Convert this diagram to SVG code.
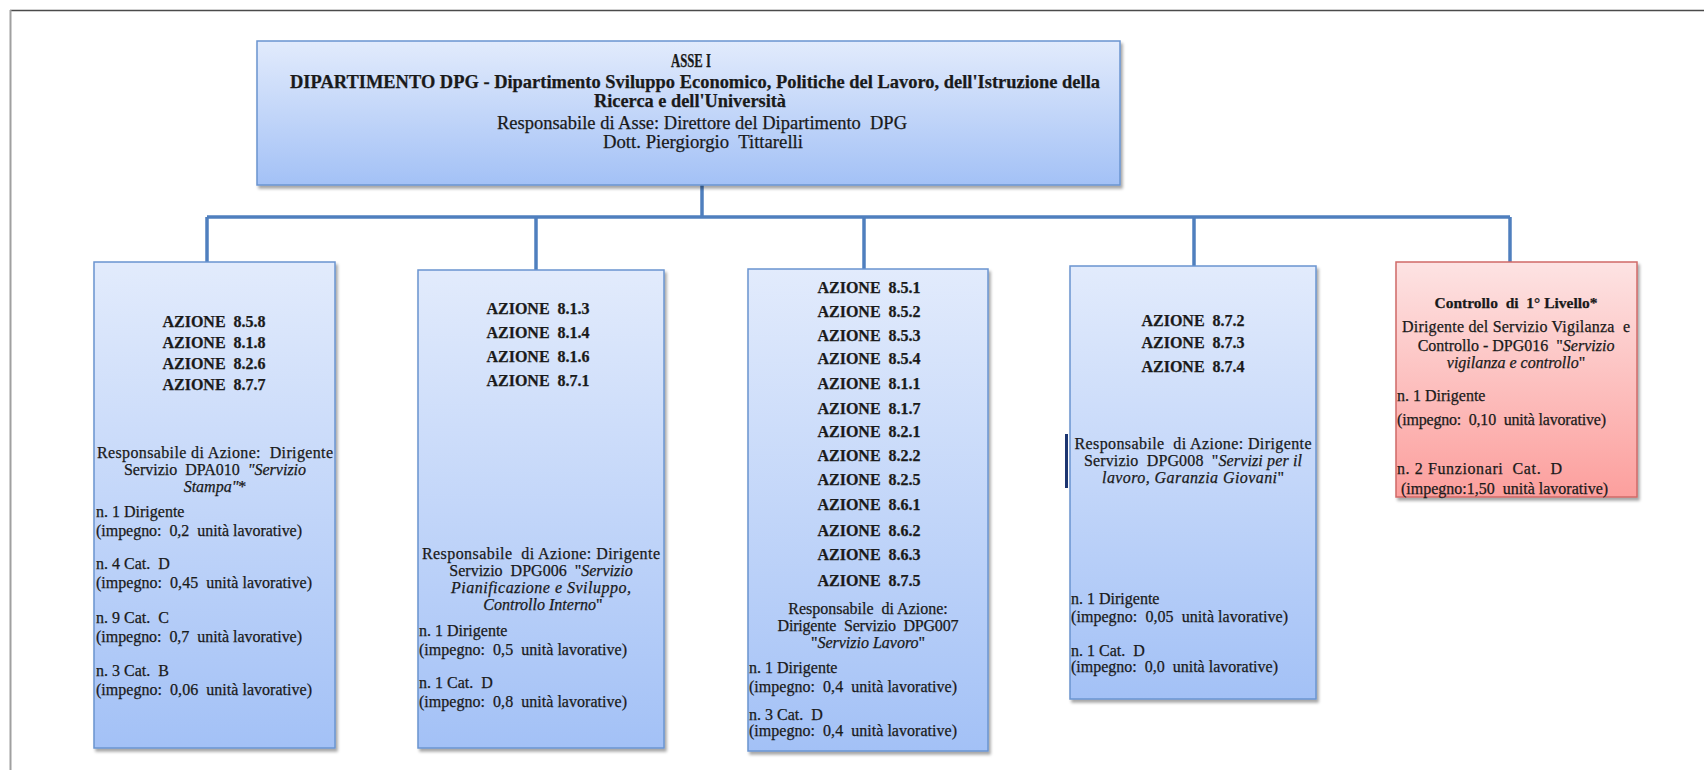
<svg xmlns="http://www.w3.org/2000/svg" width="1704" height="770" viewBox="0 0 1704 770">
<defs>
<linearGradient id="gBlue" x1="0" y1="0" x2="0" y2="1">
<stop offset="0" stop-color="#e2ebfc"/>
<stop offset="1" stop-color="#a3c1f6"/>
</linearGradient>
<linearGradient id="gRed" x1="0" y1="0" x2="0" y2="1">
<stop offset="0" stop-color="#fde3e3"/>
<stop offset="1" stop-color="#fc9f9d"/>
</linearGradient>
<filter id="sh" x="-5%" y="-5%" width="115%" height="115%">
<feDropShadow dx="2" dy="3" stdDeviation="1.8" flood-color="#000" flood-opacity="0.35"/>
</filter>
</defs>
<style>
.box{fill:url(#gBlue);stroke:#6a94d0;stroke-width:1.5;filter:url(#sh)}
.red{fill:url(#gRed);stroke:#d06a68;stroke-width:1.5;filter:url(#sh)}
.conn{stroke:#4f7fbe;stroke-width:3.5;fill:none}
text{font-family:'Liberation Serif','Times New Roman',serif;fill:#1a1a1a;stroke:#1a1a1a;stroke-width:0.25;white-space:pre}
.b{font-weight:bold}
.c{text-anchor:middle}
.az{font-weight:bold;text-anchor:middle;font-size:16px}
.t{font-size:16px}
.i{font-style:italic}
</style>
<rect x="0" y="0" width="1704" height="770" fill="#fff"/>
<line x1="10" y1="10.5" x2="1704" y2="10.5" stroke="#4a4a4a" stroke-width="1.5"/>
<line x1="10.5" y1="10" x2="10.5" y2="770" stroke="#a0a0a0" stroke-width="2"/>

<g id="connectors">
<path class="conn" d="M702 185 V217"/>
<path class="conn" d="M207 217 H1510"/>
<path class="conn" d="M207 217 V262"/>
<path class="conn" d="M536 217 V270"/>
<path class="conn" d="M864 217 V269"/>
<path class="conn" d="M1194 217 V266"/>
<path class="conn" d="M1510 217 V262"/>
</g>

<g id="asse">
<rect class="box" x="257" y="41" width="863" height="144"/>
<text class="b c" x="691" y="67" font-size="19" textLength="40" lengthAdjust="spacingAndGlyphs">ASSE I</text>
<text class="b c" x="695" y="88" font-size="19" textLength="810" lengthAdjust="spacingAndGlyphs">DIPARTIMENTO DPG - Dipartimento Sviluppo Economico, Politiche del Lavoro, dell'Istruzione della</text>
<text class="b c" x="690" y="107" font-size="19" textLength="192" lengthAdjust="spacingAndGlyphs">Ricerca e dell'Università</text>
<text class="c" x="702" y="129" font-size="19" textLength="410" lengthAdjust="spacingAndGlyphs">Responsabile di Asse: Direttore del Dipartimento  DPG</text>
<text class="c" x="703" y="148" font-size="19" textLength="200" lengthAdjust="spacingAndGlyphs">Dott. Piergiorgio  Tittarelli</text>
</g>

<g id="box1">
<rect class="box" x="94" y="262" width="241" height="486"/>
<text class="az" x="214" y="327">AZIONE  8.5.8</text>
<text class="az" x="214" y="348">AZIONE  8.1.8</text>
<text class="az" x="214" y="369">AZIONE  8.2.6</text>
<text class="az" x="214" y="390">AZIONE  8.7.7</text>
<text class="t c" x="215" y="458" textLength="236">Responsabile di Azione:  Dirigente</text>
<text class="t c" x="215" y="475">Servizio  DPA010  <tspan class="i">"Servizio</tspan></text>
<text class="t c" x="215" y="492"><tspan class="i">Stampa"</tspan>*</text>
<text class="t" x="96" y="517">n. 1 Dirigente</text>
<text class="t" x="96" y="536" textLength="206">(impegno:  0,2  unità lavorative)</text>
<text class="t" x="96" y="569">n. 4 Cat.  D</text>
<text class="t" x="96" y="588" textLength="216">(impegno:  0,45  unità lavorative)</text>
<text class="t" x="96" y="623">n. 9 Cat.  C</text>
<text class="t" x="96" y="642" textLength="206">(impegno:  0,7  unità lavorative)</text>
<text class="t" x="96" y="676">n. 3 Cat.  B</text>
<text class="t" x="96" y="695" textLength="216">(impegno:  0,06  unità lavorative)</text>
</g>

<g id="box2">
<rect class="box" x="418" y="270" width="246" height="478"/>
<text class="az" x="538" y="314">AZIONE  8.1.3</text>
<text class="az" x="538" y="338">AZIONE  8.1.4</text>
<text class="az" x="538" y="362">AZIONE  8.1.6</text>
<text class="az" x="538" y="386">AZIONE  8.7.1</text>
<text class="t c" x="541" y="559" textLength="238">Responsabile  di Azione: Dirigente</text>
<text class="t c" x="541" y="576">Servizio  DPG006  "<tspan class="i">Servizio</tspan></text>
<text class="t c i" x="541" y="593" textLength="180">Pianificazione e Sviluppo,</text>
<text class="t c" x="543" y="610"><tspan class="i">Controllo Interno</tspan>"</text>
<text class="t" x="419" y="636">n. 1 Dirigente</text>
<text class="t" x="419" y="655" textLength="208">(impegno:  0,5  unità lavorative)</text>
<text class="t" x="419" y="688">n. 1 Cat.  D</text>
<text class="t" x="419" y="707" textLength="208">(impegno:  0,8  unità lavorative)</text>
</g>

<g id="box3">
<rect class="box" x="748" y="269" width="240" height="482"/>
<text class="az" x="869" y="293">AZIONE  8.5.1</text>
<text class="az" x="869" y="317">AZIONE  8.5.2</text>
<text class="az" x="869" y="341">AZIONE  8.5.3</text>
<text class="az" x="869" y="364">AZIONE  8.5.4</text>
<text class="az" x="869" y="389">AZIONE  8.1.1</text>
<text class="az" x="869" y="414">AZIONE  8.1.7</text>
<text class="az" x="869" y="437">AZIONE  8.2.1</text>
<text class="az" x="869" y="461">AZIONE  8.2.2</text>
<text class="az" x="869" y="485">AZIONE  8.2.5</text>
<text class="az" x="869" y="510">AZIONE  8.6.1</text>
<text class="az" x="869" y="536">AZIONE  8.6.2</text>
<text class="az" x="869" y="560">AZIONE  8.6.3</text>
<text class="az" x="869" y="586">AZIONE  8.7.5</text>
<text class="t c" x="868" y="614">Responsabile  di Azione:</text>
<text class="t c" x="868" y="631" textLength="181">Dirigente  Servizio  DPG007</text>
<text class="t c" x="868" y="648">"<tspan class="i">Servizio Lavoro</tspan>"</text>
<text class="t" x="749" y="673">n. 1 Dirigente</text>
<text class="t" x="749" y="692" textLength="208">(impegno:  0,4  unità lavorative)</text>
<text class="t" x="749" y="720">n. 3 Cat.  D</text>
<text class="t" x="749" y="736" textLength="208">(impegno:  0,4  unità lavorative)</text>
</g>

<g id="box4">
<rect class="box" x="1070" y="266" width="246" height="433"/>
<rect x="1065" y="434" width="3" height="54" fill="#1c3570"/>
<text class="az" x="1193" y="326">AZIONE  8.7.2</text>
<text class="az" x="1193" y="348">AZIONE  8.7.3</text>
<text class="az" x="1193" y="372">AZIONE  8.7.4</text>
<text class="t c" x="1193" y="449" textLength="237">Responsabile  di Azione: Dirigente</text>
<text class="t c" x="1193" y="466" textLength="218">Servizio  DPG008  "<tspan class="i">Servizi per il</tspan></text>
<text class="t c" x="1193" y="483" textLength="182"><tspan class="i">lavoro, Garanzia Giovani</tspan>"</text>
<text class="t" x="1071" y="604">n. 1 Dirigente</text>
<text class="t" x="1071" y="622" textLength="217">(impegno:  0,05  unità lavorative)</text>
<text class="t" x="1071" y="656">n. 1 Cat.  D</text>
<text class="t" x="1071" y="672" textLength="207">(impegno:  0,0  unità lavorative)</text>
</g>

<g id="box5">
<rect class="red" x="1396" y="262" width="241" height="235"/>
<text class="b c" x="1516" y="308" font-size="15.5">Controllo  di  1° Livello*</text>
<text class="t c" x="1516" y="332" textLength="228">Dirigente del Servizio Vigilanza  e</text>
<text class="t c" x="1516" y="351">Controllo - DPG016  "<tspan class="i">Servizio</tspan></text>
<text class="t c" x="1516" y="368"><tspan class="i">vigilanza e controllo</tspan>"</text>
<text class="t" x="1397" y="401">n. 1 Dirigente</text>
<text class="t" x="1397" y="425" textLength="209">(impegno:  0,10  unità lavorative)</text>
<text class="t" x="1397" y="474" textLength="165">n. 2 Funzionari  Cat.  D</text>
<text class="t" x="1397" y="494"> (impegno:1,50  unità lavorative)</text>
</g>
</svg>
